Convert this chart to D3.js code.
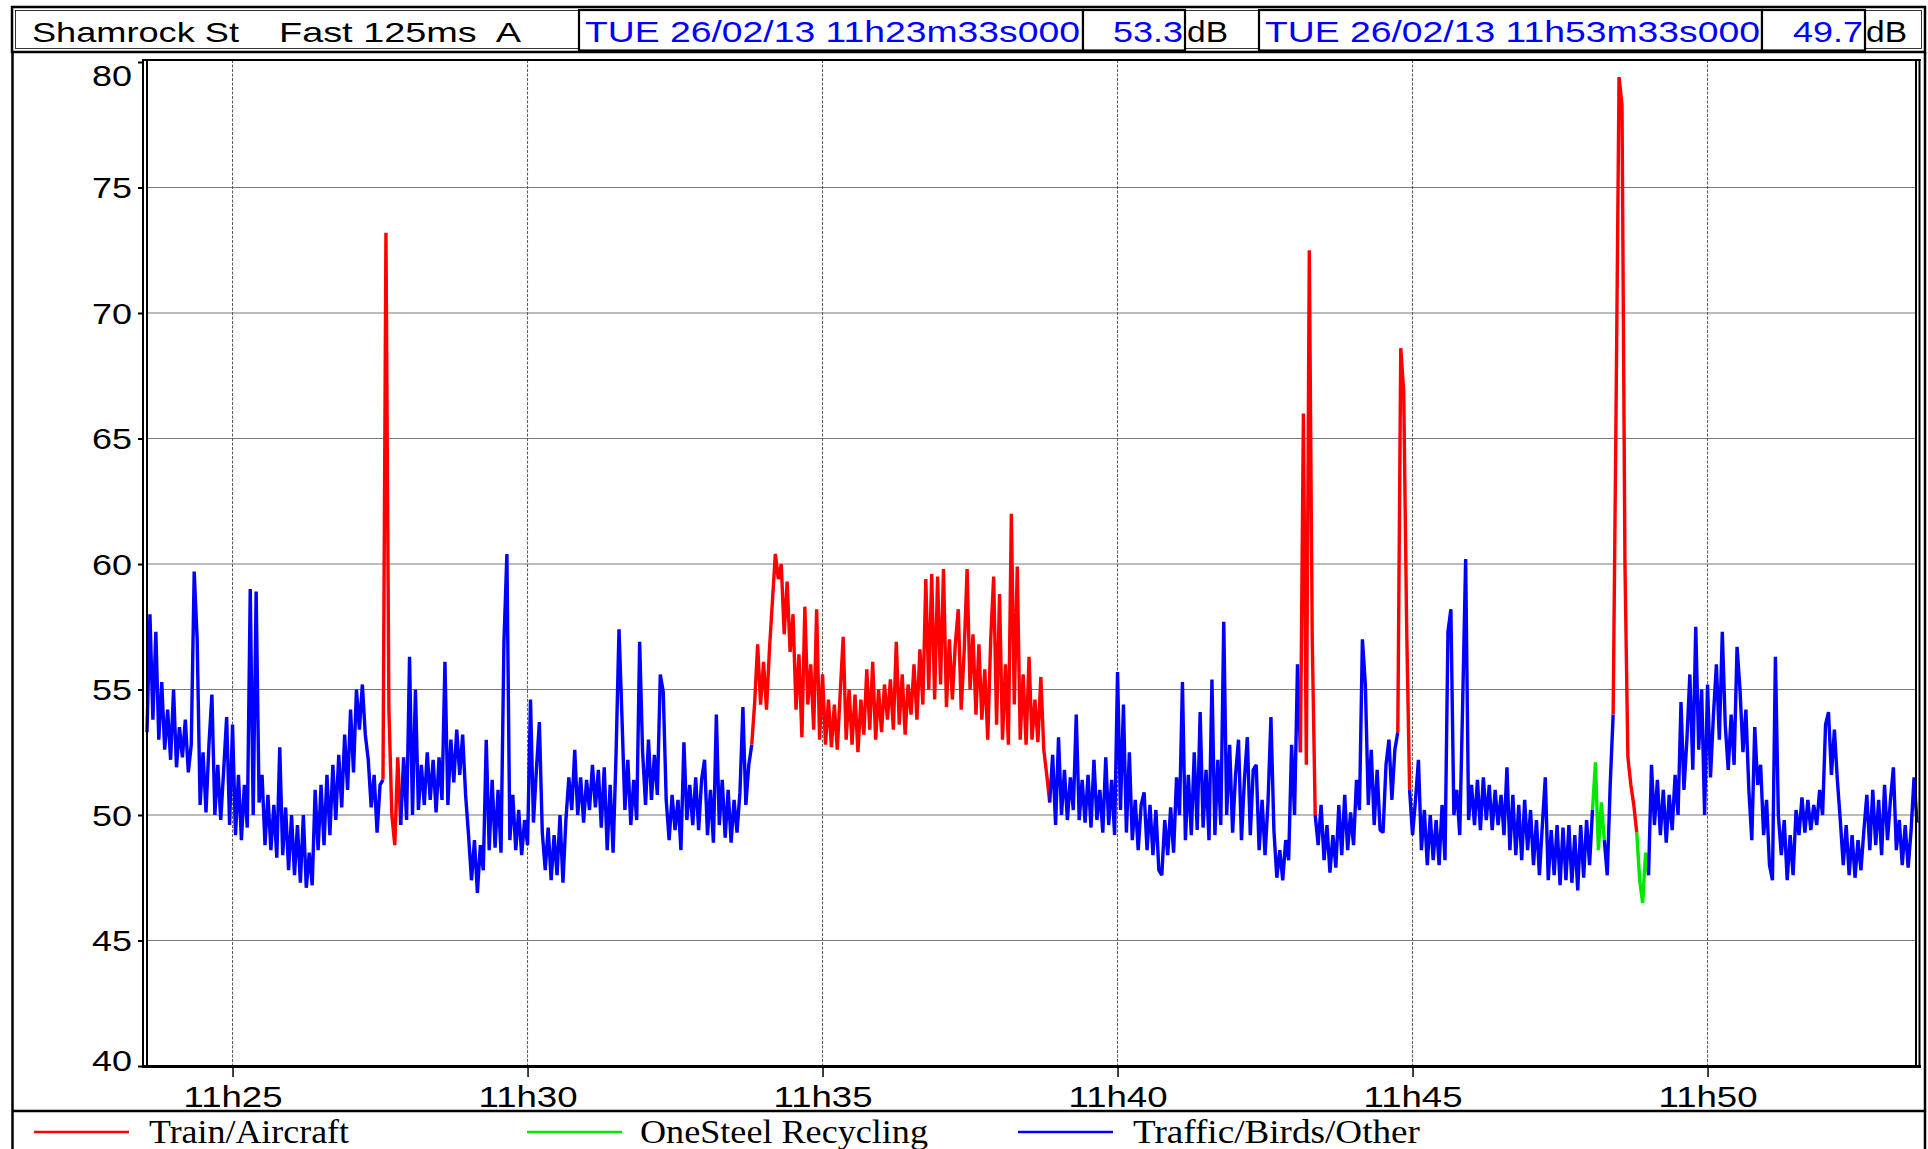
<!DOCTYPE html>
<html>
<head>
<meta charset="utf-8">
<script src="https://cdn.jsdelivr.net/npm/d3@7"></script>
<style>
  html, body { margin: 0; padding: 0; background: #fff; }
  figure { margin: 0; }
  svg { display: block; }
</style>
</head>
<body>
<figure id="chart"></figure>
<script>
// Shamrock St noise log, 26/02/2013, LAeq Fast 125ms
// one level every 3 s from 11h23m33s
const startTime = new Date(2013, 1, 26, 11, 23, 33);
const stepSeconds = 3;

const levels = [
  53.3, 58.0, 53.8, 57.3, 53.0, 55.3, 52.6, 54.2, 52.2, 55.0,
  51.9, 53.5, 52.3, 53.8, 51.7, 52.8, 59.7, 57.0, 50.4, 52.5,
  50.1, 52.8, 54.8, 50.0, 52.0, 49.8, 51.8, 53.9, 49.6, 53.6,
  49.2, 51.6, 49.0, 51.2, 49.5, 59.0, 50.0, 58.9, 50.5, 51.6,
  48.8, 50.8, 48.6, 50.4, 48.3, 52.7, 48.4, 50.3, 47.8, 50.0,
  47.6, 49.6, 47.3, 50.0, 47.1, 48.5, 47.2, 51.0, 48.6, 51.2,
  48.8, 51.6, 49.2, 52.0, 49.8, 52.4, 50.3, 53.2, 51.0, 54.2,
  51.7, 55.0, 53.4, 55.2, 53.2, 52.2, 50.3, 51.6, 49.3, 51.2,
  51.4, 73.2, 54.2, 50.0, 48.8, 52.3, 49.6, 52.3, 49.8, 56.3,
  50.0, 55.0, 50.2, 52.0, 50.4, 52.5, 50.6, 52.2, 50.1, 52.3,
  50.6, 56.1, 50.4, 53.0, 51.3, 53.4, 51.6, 53.2, 50.8, 49.2,
  47.4, 49.0, 46.9, 48.8, 47.8, 53.0, 48.6, 51.4, 48.7, 51.0,
  48.5, 56.9, 60.4, 49.0, 50.8, 48.6, 50.2, 48.4, 49.8, 48.8,
  54.6, 49.7, 51.8, 53.7, 49.3, 47.8, 49.5, 47.4, 49.2, 47.6,
  50.0, 47.3, 49.8, 51.5, 50.2, 52.6, 50.0, 51.5, 49.7, 51.4,
  50.2, 52.0, 50.3, 51.8, 49.5, 51.9, 48.6, 51.2, 48.5, 52.4,
  57.4, 53.9, 50.2, 52.2, 49.6, 51.4, 49.8, 56.9, 52.5, 50.4,
  53.0, 50.6, 52.4, 50.8, 55.6, 54.9, 50.6, 49.0, 50.8, 49.4,
  50.6, 48.6, 52.9, 49.8, 51.2, 49.6, 51.5, 49.4, 51.4, 52.2,
  49.2, 51.0, 48.9, 54.0, 49.6, 51.4, 49.1, 51.0, 48.9, 50.6,
  49.3, 50.9, 54.3, 50.4, 52.0, 52.8, 54.5, 56.8, 54.4, 56.1,
  54.2, 56.6, 58.5, 60.4, 59.4, 60.0, 57.2, 59.3, 56.5, 58.0,
  54.2, 56.4, 53.1, 58.3, 54.4, 56.0, 53.4, 58.2, 53.0, 55.6,
  52.8, 54.6, 52.7, 54.4, 52.6, 54.9, 57.1, 53.0, 55.0, 52.8,
  54.8, 52.5, 54.6, 53.2, 55.8, 53.4, 56.1, 53.0, 55.0, 53.3,
  55.2, 53.8, 55.4, 53.4, 56.9, 53.6, 55.6, 53.2, 55.2, 54.0,
  56.0, 53.8, 56.6, 54.4, 59.4, 55.0, 59.6, 54.6, 59.5, 55.2,
  59.8, 54.3, 57.0, 54.6, 56.8, 58.2, 54.2, 56.5, 59.8, 55.0,
  57.2, 54.0, 56.8, 53.8, 55.8, 53.0, 57.0, 59.5, 53.6, 58.8,
  53.0, 56.0, 52.8, 62.0, 54.4, 59.9, 53.0, 55.6, 52.8, 56.3,
  53.0, 54.6, 52.9, 55.5, 52.6, 51.6, 50.5, 52.4, 49.6, 53.1,
  50.0, 51.8, 49.8, 51.5, 50.2, 54.0, 49.8, 51.4, 49.7, 51.6,
  49.5, 52.2, 49.8, 51.0, 49.3, 52.3, 49.6, 51.4, 49.2, 55.7,
  50.2, 54.4, 49.3, 52.5, 49.0, 50.6, 48.6, 50.4, 50.9, 48.6,
  50.4, 48.4, 50.2, 47.8, 47.6, 49.8, 48.4, 50.3, 48.5, 51.5,
  50.0, 55.3, 49.0, 51.6, 49.2, 52.5, 49.4, 54.1, 49.5, 51.8,
  49.0, 55.4, 49.2, 52.2, 49.6, 57.7, 50.0, 52.8, 49.3, 51.6,
  53.0, 49.0, 51.4, 53.1, 49.2, 51.8, 52.0, 48.6, 50.6, 48.4,
  50.5, 53.9, 49.4, 47.5, 48.6, 47.4, 49.0, 48.2, 52.8, 50.0,
  56.0, 52.5, 66.0, 52.0, 72.5, 57.0, 50.0, 48.8, 50.4, 48.2,
  49.6, 47.7, 49.2, 47.9, 50.4, 48.4, 50.8, 48.6, 50.1, 48.8,
  51.4, 50.2, 57.0, 55.2, 50.4, 52.6, 49.6, 51.8, 49.4, 49.3,
  52.0, 53.0, 50.6, 52.6, 53.3, 68.6, 66.9, 57.5, 51.0, 49.2,
  50.6, 52.2, 48.6, 50.2, 48.0, 50.0, 48.2, 49.8, 48.0, 50.4,
  48.2, 57.3, 58.2, 50.0, 51.0, 49.2, 54.5, 60.2, 49.8, 51.2,
  49.6, 51.4, 49.4, 51.5, 49.8, 51.2, 49.4, 51.0, 49.6, 50.8,
  49.2, 51.9, 48.6, 50.8, 48.4, 50.4, 48.2, 50.6, 48.6, 50.2,
  48.0, 49.8, 47.6, 49.6, 51.5, 47.4, 49.4, 47.6, 49.6, 47.2,
  49.5, 47.4, 49.6, 47.3, 49.2, 47.0, 49.6, 47.5, 49.8, 48.0,
  50.2, 52.1, 48.6, 50.5, 49.0, 47.6, 51.2, 54.0, 66.3, 79.4,
  78.3, 60.0, 52.3, 51.2, 50.4, 49.3, 47.4, 46.5, 48.5, 47.6,
  52.0, 49.6, 51.4, 49.2, 51.0, 48.9, 50.8, 49.4, 51.6, 50.0,
  54.5, 51.0, 53.0, 55.6, 51.8, 57.5, 52.6, 55.0, 50.0, 55.2,
  51.5, 54.0, 56.0, 53.0, 57.3, 53.6, 51.8, 54.0, 52.0, 56.7,
  55.0, 52.5, 54.2, 51.0, 49.0, 53.5, 51.2, 52.0, 49.2, 50.6,
  48.0, 47.4, 56.3, 50.0, 48.4, 49.8, 47.4, 49.2, 47.6, 50.2,
  49.2, 50.7, 49.3, 50.6, 49.4, 50.4, 49.6, 51.0, 50.0, 53.6,
  54.1, 51.6, 53.4, 51.4, 49.8, 48.0, 49.6, 47.6, 49.2, 47.5,
  49.0, 47.8, 49.4, 50.8, 48.6, 51.0, 48.8, 50.6, 48.4, 51.2,
  49.0, 50.6, 51.9, 48.6, 49.8, 48.0, 49.6, 47.9, 49.4, 51.5,
  49.7
];

const sources = ["Train/Aircraft", "OneSteel Recycling", "Traffic/Birds/Other"];
const sourceColors = ["#ff0000", "#00e800", "#0000ff"];

// stretches of the log and the source they are put down to: [first, last, source]
const periods = [
  [0, 80, 2], [80, 86, 0], [86, 205, 2], [205, 306, 0], [306, 391, 2],
  [391, 396, 0], [396, 424, 2], [424, 428, 0], [428, 490, 2], [490, 494, 1],
  [494, 497, 2], [497, 505, 0], [505, 509, 1], [509, 600, 2]
];

const yTicks = [40, 45, 50, 55, 60, 65, 70, 75, 80];

// cursor readouts in the header
const cursorTimes = ["TUE 26/02/13 11h23m33s000", "TUE 26/02/13 11h53m33s000"];
const cursorLevels = [53.3, 49.7];

const W = 1928, H = 1149;
const plot = { left: 147, right: 1917, top: 60, bottom: 1066 };
const sans = "'Liberation Sans', Arial, Helvetica, sans-serif";
const serif = "'Liberation Serif', 'Times New Roman', serif";

const svg = d3.select("#chart")
  .append("svg")
  .attr("width", W)
  .attr("height", H)
  .style("font-family", sans);

svg.append("rect").attr("width", W).attr("height", H).attr("fill", "#fff");

const endTime = d3.timeSecond.offset(startTime, (levels.length - 1) * stepSeconds);
const x = d3.scaleTime().domain([startTime, endTime]).range([plot.left, plot.right]);
const y = d3.scaleLinear().domain([40, 80]).range([plot.bottom, 62]);

const points = levels.map((v, i) => ({ t: d3.timeSecond.offset(startTime, i * stepSeconds), v }));
const xTicks = x.ticks(d3.timeMinute.every(5));

// --------------------- grid ------------------- //
svg.append("g")
  .selectAll("line")
  .data(yTicks.filter(v => v > 40 && v < 80))
  .join("line")
  .attr("x1", plot.left).attr("x2", plot.right)
  .attr("y1", d => y(d)).attr("y2", d => y(d))
  .attr("stroke", "#7a7a7a")
  .attr("stroke-width", 1.2);

svg.append("g")
  .selectAll("line")
  .data(xTicks)
  .join("line")
  .attr("x1", d => x(d)).attr("x2", d => x(d))
  .attr("y1", plot.top).attr("y2", plot.bottom)
  .attr("stroke", "#555")
  .attr("stroke-width", 1)
  .attr("stroke-dasharray", "3,1.5");

// --------------------- level trace ------------------- //
const line = d3.line()
  .x(d => x(d.t))
  .y(d => y(d.v));

svg.append("g")
  .selectAll("path")
  .data(periods)
  .join("path")
  .attr("d", p => line(points.slice(p[0], p[1] + 1)))
  .attr("fill", "none")
  .attr("stroke", p => sourceColors[p[2]])
  .attr("stroke-width", 3.4)
  .attr("stroke-linejoin", "bevel");

// --------------------- frames ------------------- //
const frame = svg.append("g").attr("stroke", "#000").attr("fill", "none");
// outer frame below the header
frame.append("line").attr("x1", 12.5).attr("x2", 12.5).attr("y1", 52).attr("y2", H).attr("stroke-width", 2.5);
frame.append("line").attr("x1", 1925).attr("x2", 1925).attr("y1", 52).attr("y2", H).attr("stroke-width", 2.5);
// plot box, doubled on the left and right
frame.append("line").attr("x1", 142).attr("x2", 1921).attr("y1", plot.top).attr("y2", plot.top).attr("stroke-width", 2);
frame.append("line").attr("x1", 142).attr("x2", 1921).attr("y1", plot.bottom + 0.5).attr("y2", plot.bottom + 0.5).attr("stroke-width", 3);
[143, 147, 1916, 1919.5].forEach(xx => {
  frame.append("line").attr("x1", xx).attr("x2", xx).attr("y1", plot.top - 1).attr("y2", plot.bottom + 1).attr("stroke-width", 2);
});
// legend strip
frame.append("line").attr("x1", 12).attr("x2", 1926).attr("y1", 1111).attr("y2", 1111).attr("stroke-width", 2.5);

// --------------------- axes ------------------- //
const yAxis = d3.axisLeft(y).tickValues(yTicks).tickSize(5).tickPadding(6).tickFormat(d3.format("d"));
const gy = svg.append("g")
  .attr("transform", "translate(143,0)")
  .call(yAxis)
  .attr("font-size", null)
  .attr("font-family", null);
gy.select(".domain").remove();
gy.selectAll(".tick line").attr("stroke", "#000").attr("stroke-width", 2);
gy.selectAll(".tick text")
  .attr("fill", "#000")
  .attr("font-size", 29)
  .attr("textLength", 40)
  .attr("lengthAdjust", "spacingAndGlyphs")
  .attr("dy", "0.36em")
  // end labels are pulled inside the plot height
  .attr("y", d => Math.min(Math.max(y(d), 75), 1060) - y(d));

const xAxis = d3.axisBottom(x).tickValues(xTicks).tickSize(9).tickFormat(d3.timeFormat("%Hh%M"));
const gx = svg.append("g")
  .attr("transform", `translate(0,${plot.bottom + 2})`)
  .call(xAxis)
  .attr("font-size", null)
  .attr("font-family", null);
gx.select(".domain").remove();
gx.selectAll(".tick line").attr("stroke", "#000").attr("stroke-width", 1.5);
gx.selectAll(".tick text")
  .attr("fill", "#000")
  .attr("font-size", 29)
  .attr("y", 39)
  .attr("dy", 0)
  .attr("textLength", 99)
  .attr("lengthAdjust", "spacingAndGlyphs");

// --------------------- header ------------------- //
const header = svg.append("g");
header.append("rect")
  .attr("x", 12).attr("y", 7).attr("width", 1913).attr("height", 45)
  .attr("fill", "#fff").attr("stroke", "#000").attr("stroke-width", 2.5);
header.append("rect")
  .attr("x", 15.5).attr("y", 10.5).attr("width", 1906).attr("height", 38)
  .attr("fill", "none").attr("stroke", "#000").attr("stroke-width", 0.8);

function headerText(str, xx, len, color, size, anchor) {
  header.append("text")
    .attr("x", xx).attr("y", 42)
    .attr("fill", color)
    .attr("font-size", size)
    .attr("text-anchor", anchor || "start")
    .attr("textLength", len)
    .attr("lengthAdjust", "spacingAndGlyphs")
    .style("white-space", "pre")
    .text(str);
}

headerText("Shamrock St", 32, 207, "#000", 28);
headerText("Fast 125ms  A", 279, 242, "#000", 28);

const cursorBoxes = [
  { date: [579, 1083], val: [1083, 1185], db: 1187 },
  { date: [1259, 1762], val: [1762, 1865], db: 1866 }
];
cursorBoxes.forEach((b, k) => {
  [b.date, b.val].forEach(r => {
    header.append("rect")
      .attr("x", r[0]).attr("y", 10).attr("width", r[1] - r[0]).attr("height", 40.5)
      .attr("fill", "#fff").attr("stroke", "#000").attr("stroke-width", 2.2);
  });
  headerText(cursorTimes[k], b.date[0] + 6, 495, "#0000ff", 30);
  headerText(d3.format(".1f")(cursorLevels[k]), b.val[1] - 2, 70, "#0000ff", 30, "end");
  headerText("dB", b.db, 41, "#000", 30);
});

// --------------------- legend ------------------- //
const legendLineX = [34, 527, 1018];
const legendTextX = [149, 640, 1133];
const legendTextLen = [200, 288, 287];
const legend = svg.append("g");
sources.forEach((s, i) => {
  legend.append("line")
    .attr("x1", legendLineX[i]).attr("x2", legendLineX[i] + 95)
    .attr("y1", 1132).attr("y2", 1132)
    .attr("stroke", sourceColors[i]).attr("stroke-width", 2.5);
  legend.append("text")
    .attr("x", legendTextX[i]).attr("y", 1143)
    .attr("font-family", serif)
    .attr("font-size", 33)
    .attr("textLength", legendTextLen[i])
    .attr("lengthAdjust", "spacingAndGlyphs")
    .attr("fill", "#000")
    .text(s);
});
</script>
</body>
</html>
